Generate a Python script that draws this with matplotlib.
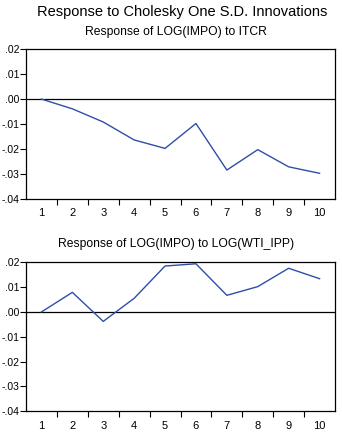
import numpy as np
import matplotlib.pyplot as plt
from matplotlib.ticker import FixedLocator, FuncFormatter

plt.rcParams['font.family'] = ['Liberation Sans', 'DejaVu Sans']

periods = [1, 2, 3, 4, 5, 6, 7, 8, 9, 10]
resp_itcr = [0.0, -0.0039, -0.0092, -0.0164, -0.0198, -0.0098, -0.0285, -0.0203, -0.0272, -0.0298]
resp_wti = [0.0, 0.0079, -0.0038, 0.0055, 0.0185, 0.0194, 0.0067, 0.0102, 0.0176, 0.0134]

main_title = "Response to Cholesky One S.D. Innovations"
titles = ["Response of LOG(IMPO) to ITCR", "Response of LOG(IMPO) to LOG(WTI_IPP)"]
y_ticks = [0.02, 0.01, 0.0, -0.01, -0.02, -0.03, -0.04]
line_color = '#2f4ea8'

W, H = 342, 433
fig = plt.figure(figsize=(W / 100, H / 100), dpi=100)


def fmt(v, pos):
    s = "%.2f" % v
    if s.startswith("-0"):
        s = "-" + s[2:]
    elif s.startswith("0"):
        s = s[1:]
    return s


def panel(top, bottom, series, title, title_y):
    ax = fig.add_axes([26 / W, 1 - bottom / H, (335 - 26) / W, (bottom - top) / H])
    ax.plot(periods, series, color=line_color, lw=1.0)
    ax.axhline(0, color='black', lw=0.9, zorder=1)
    ax.set_xlim(0.5, 10.5)
    ax.set_ylim(-0.04, 0.02)
    ax.set_yticks(y_ticks)
    ax.yaxis.set_major_formatter(FuncFormatter(fmt))
    ax.xaxis.set_major_locator(FixedLocator(periods))
    ax.xaxis.set_minor_locator(FixedLocator(np.arange(1.5, 10.5, 1.0)))
    ax.tick_params(axis='x', which='major', length=0, pad=7, labelsize=8)
    ax.tick_params(axis='x', which='minor', length=4, width=0.8, direction='out')
    ax.tick_params(axis='y', length=4, width=0.8, direction='out', pad=1, labelsize=7.5)
    for sp in ax.spines.values():
        sp.set_linewidth(0.9)
    fig.text(176 / W, 1 - title_y / H, title, ha='center', va='center', fontsize=8.7)
    return ax


panel(49.3, 198.7, resp_itcr, titles[0], 32)
panel(262.3, 411.3, resp_wti, titles[1], 244)
fig.text(182 / W, 1 - 12 / H, main_title, ha='center', va='center', fontsize=10.5)

plt.savefig("out.png", dpi=100)
